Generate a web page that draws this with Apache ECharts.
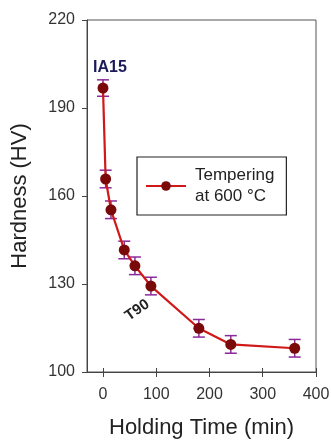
<!DOCTYPE html>
<html><head><meta charset="utf-8">
<script src="https://cdn.jsdelivr.net/npm/echarts@6/dist/echarts.min.js"></script>
<style>html,body{margin:0;padding:0;background:#fff}#c{width:331px;height:442px}</style>
</head><body><div id="c"></div>
<script>
const times = [0, 5, 15, 40, 60, 90, 180, 240, 360];
const hardness = [196.8, 165.8, 155.3, 141.6, 136.2, 129.3, 114.9, 109.4, 108.1];
const errors = [2.8, 3, 3, 3, 3, 3, 3, 3, 3];
const xTicks = [0, 100, 200, 300, 400];
const seriesName = 'Tempering\nat 600 °C';

const chart = echarts.init(document.getElementById('c'));
const lineData = times.map((t, i) => {
  const d = { value: [t, hardness[i]] };
  if (i === 0) d.label = { show: true, formatter: 'IA15', position: 'inside', offset: [7, -20], color: '#1b1b5a', fontWeight: 'bold', fontSize: 16, fontFamily: 'Liberation Sans' };
  if (t === 90) d.label = { show: true, formatter: 'T90', position: 'inside', offset: [-25, 12], rotate: 35, color: '#222', fontWeight: 'bold', fontSize: 15, fontFamily: 'Liberation Sans' };
  return d;
});
const errData = times.map((t, i) => [t, hardness[i] - errors[i], hardness[i] + errors[i]]);

chart.setOption({
  animation: false,
  textStyle: { fontFamily: 'Liberation Sans' },
  grid: { left: 87, right: 15, top: 20, bottom: 70, show: true, borderColor: '#555', borderWidth: 1, outerBoundsMode: 'none', containLabel: false },
  legend: {
    show: true, left: 137, top: 157,
    data: [seriesName],
    borderColor: '#222', borderWidth: 1.2, padding: [8, 12, 8, 8],
    itemWidth: 40, itemHeight: 12, itemGap: 10,
    textStyle: { fontSize: 17, color: '#222', lineHeight: 21, fontFamily: 'Liberation Sans', padding: [0, 0, 0, 4] }
  },
  xAxis: [{
    type: 'value', min: -30, max: 400,
    name: 'Holding Time (min)', nameLocation: 'middle', nameGap: 45,
    nameTextStyle: { fontSize: 22, color: '#222' },
    axisLine: { show: true, onZero: false, lineStyle: { color: '#444' } },
    axisTick: { show: true, inside: true, length: 4, customValues: xTicks, lineStyle: { color: '#444' } },
    axisLabel: { customValues: xTicks, fontSize: 16, color: '#333', margin: 15 },
    splitLine: { show: false }
  }, {
    type: 'value', min: -30, max: 400, position: 'bottom',
    axisLine: { show: false, onZero: false },
    axisTick: { show: true, inside: false, length: 5, customValues: xTicks, lineStyle: { color: '#444' } },
    axisLabel: { show: false },
    splitLine: { show: false }
  }],
  yAxis: {
    type: 'value', min: 100, max: 220, interval: 30,
    name: 'Hardness (HV)', nameLocation: 'middle', nameGap: 56,
    nameTextStyle: { fontSize: 22, color: '#222' },
    axisLine: { show: true, onZero: false, lineStyle: { color: '#444' } },
    axisTick: { show: true, length: 5, lineStyle: { color: '#444' } },
    axisLabel: { fontSize: 16, color: '#333', margin: 12 },
    splitLine: { show: false }
  },
  series: [
    {
      type: 'custom', name: 'err', silent: true, z: 3,
      renderItem: function (params, api) {
        const x = api.value(0);
        const lo = api.coord([x, api.value(1)]);
        const hi = api.coord([x, api.value(2)]);
        const w = 6;
        const st = { stroke: '#8a2a9a', lineWidth: 1.5 };
        return { type: 'group', children: [
          { type: 'line', shape: { x1: lo[0], y1: lo[1], x2: hi[0], y2: hi[1] }, style: st },
          { type: 'line', shape: { x1: lo[0] - w, y1: lo[1], x2: lo[0] + w, y2: lo[1] }, style: st },
          { type: 'line', shape: { x1: hi[0] - w, y1: hi[1], x2: hi[0] + w, y2: hi[1] }, style: st }
        ]};
      },
      data: errData
    },
    {
      type: 'line', name: seriesName, data: lineData, z: 4,
      symbol: 'circle', symbolSize: 11,
      lineStyle: { color: '#d01818', width: 2.2 },
      itemStyle: { color: '#7a0a0a' },
      label: { show: false }
    }
  ]
});
</script></body></html>
